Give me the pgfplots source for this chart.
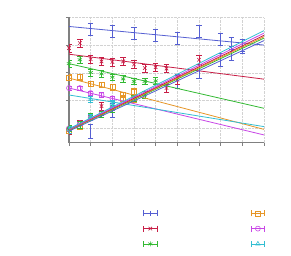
\documentclass[border=0pt]{standalone}
\usepackage{pgfplots}
\pgfplotsset{compat=1.18}
\usetikzlibrary{arrows.meta}
\definecolor{cB}{RGB}{85,95,210}
\definecolor{cR}{RGB}{200,30,70}
\definecolor{cG}{RGB}{50,185,50}
\definecolor{cO}{RGB}{230,150,40}
\definecolor{cP}{RGB}{200,70,230}
\definecolor{cC}{RGB}{50,190,210}
\pgfplotsset{
  ser/.style={only marks, mark size=2.5bp, line width=0.6bp,
    error bars/.cd, y dir=both, y fixed=#1,
    error mark options={rotate=90, mark size=2.8bp, line width=0.6bp},
    /pgfplots/.cd},
  fit/.style={no marks, line width=0.8bp, forget plot},
}
\begin{document}
\begin{tikzpicture}
\begin{axis}[
  at={(0bp,0bp)}, anchor=south west,
  width=195bp, height=125.4bp, scale only axis,
  xmin=0, xmax=9, ymin=-0.52, ymax=4,
  xtick={0,...,9}, ytick={0,...,4},
  xticklabels={}, yticklabels={},
  grid=major, grid style={densely dotted, gray!35, line width=0.5bp},
  axis x line=bottom, axis y line=left,
  axis line style={-, gray, line width=1.1bp},
  tick style={gray, line width=0.6bp}, tick align=outside, major tick length=3bp,
  clip mode=individual,
  legend columns=2,
  legend image code/.code={
    \path[draw=none, fill=none] (0bp,-7.65bp) rectangle (14bp,7.65bp);
    \draw[{Bar[width=6bp]}-{Bar[width=6bp]}, line width=0.6bp] (0bp,0bp) -- (14bp,0bp);
    \draw plot coordinates {(7bp,0bp)};
  },
  legend style={draw=none, fill=none, inner sep=0pt, outer sep=0pt,
    nodes={inner sep=0pt, outer sep=0pt}, row sep=0pt,
    /tikz/every even column/.append style={column sep=92bp},
    at={(0.3795,-0.502)}, anchor=north west},
]
% descending data sets (legend entries)
\addplot[cB, mark=|, ser=0.22] coordinates {(1,3.58) (2,3.49) (3,3.41) (4,3.34) (5,3.25) (6,3.50) (7,3.22) (7.5,3.07) (8,3.0)};
\addlegendentry{}
\addplot[cO, mark=square, ser=0.1] coordinates {(0,1.83) (0.5,1.84) (1,1.60) (1.5,1.57) (2,1.48) (2.5,1.20) (3,1.33)};
\addlegendentry{}
\addplot[cR, mark=x, mark size=3bp, ser=0.15] coordinates {(0,2.89) (0.5,3.07) (1,2.49) (1.5,2.41) (2,2.39) (2.5,2.41) (3,2.30) (3.5,2.17) (4,2.20) (4.5,2.15)};
\addlegendentry{}
\addplot[cP, mark=o, mark size=2.7bp, ser=0.08] coordinates {(0,1.45) (0.5,1.45) (1,1.27) (1.5,1.20) (2,1.08)};
\addlegendentry{}
\addplot[cG, mark=asterisk, mark size=2.8bp, ser=0.12] coordinates {(0,2.33) (0.5,2.47) (1,2.01) (1.5,1.96) (2,1.84) (2.5,1.78) (3,1.69) (3.5,1.69) (4,1.71)};
\addlegendentry{}
\addplot[cC, mark=triangle, mark size=2.7bp, ser=0.1] coordinates {(1,1.04) (2,0.92)};
\addlegendentry{}
% ascending data sets
\addplot[forget plot, cB, mark=|, ser=0.25] coordinates {(1,-0.12) (2,0.66) (5,1.69) (6,2.04) (7,2.47) (7.5,2.71) (8,2.95)};
\addplot[forget plot, cO, mark=square, ser=0.1] coordinates {(0,-0.08) (0.5,0.06) (2.5,1.08) (3,1.05)};
\addplot[forget plot, cR, mark=x, mark size=3bp, ser=0.15] coordinates {(0,-0.06) (0.5,0.15) (1.5,0.80) (4.5,1.45) (5,1.75) (6,2.47)};
\addplot[forget plot, cP, mark=o, mark size=2.7bp, ser=0.08] coordinates {(0,0.0) (0.5,0.18) (1,0.40) (1.5,0.54) (2,0.72)};
\addplot[forget plot, cG, mark=asterisk, mark size=2.8bp, ser=0.12] coordinates {(0,0.0) (0.5,0.12) (1,0.42) (1.5,0.50) (2,0.70) (3,1.08) (3.5,1.20)};
\addplot[forget plot, cC, mark=triangle, mark size=2.7bp, ser=0.12] coordinates {(0,-0.05) (1,0.40) (2,0.85)};
% fitted lines, descending
\addplot[fit, cB] coordinates {(0,3.67) (9,3.0)};
\addplot[fit, cR] coordinates {(0,2.67) (9,1.77)};
\addplot[fit, cG] coordinates {(0,2.33) (9,0.72)};
\addplot[fit, cO] coordinates {(0,1.81) (9,-0.04)};
\addplot[fit, cP] coordinates {(0,1.45) (9,-0.24)};
\addplot[fit, cC] coordinates {(0,1.20) (9,0.06)};
% fitted lines, ascending
\addplot[fit, cB] coordinates {(0,-0.10) (9,3.16)};
\addplot[fit, cG] coordinates {(0,-0.07) (9,3.25)};
\addplot[fit, cO] coordinates {(0,-0.06) (9,3.30)};
\addplot[fit, cR] coordinates {(0,-0.05) (9,3.35)};
\addplot[fit, cP] coordinates {(0,-0.04) (9,3.43)};
\addplot[fit, cC] coordinates {(0,-0.02) (9,3.52)};
\end{axis}
\pgfresetboundingbox
\path[use as bounding box] (-69bp,-113.3bp) rectangle (222bp,142.7bp);
\end{tikzpicture}
\end{document}
